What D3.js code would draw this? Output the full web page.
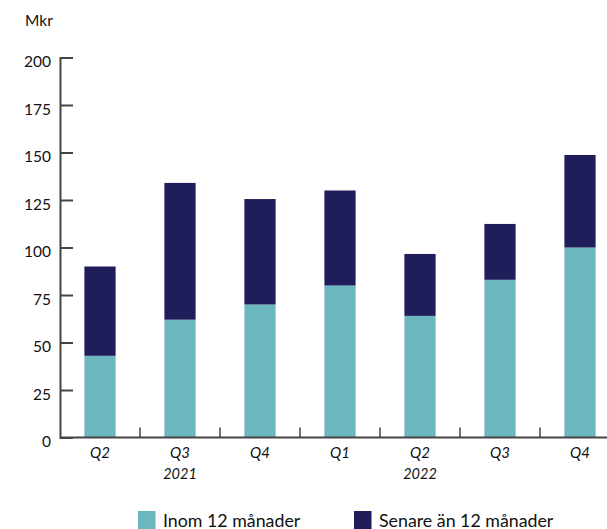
<!DOCTYPE html>
<html>
<head>
<meta charset="utf-8">
<script src="https://cdn.jsdelivr.net/npm/d3@7"></script>
<style>
  body { margin: 0; background: #fff; }
  svg { display: block; font-family: Lato, "Open Sans", sans-serif; }
</style>
</head>
<body>
<svg id="chart" width="607" height="529"></svg>
<script>
// Quarterly amounts (Mkr), split by maturity
const quarters = ["Q2", "Q3", "Q4", "Q1", "Q2", "Q3", "Q4"];
const years = ["2021", "2021", "2021", "2022", "2022", "2022", "2022"];
const inom12 = [43, 62, 70, 80, 64, 83, 100];
const senare12 = [47, 72, 55.5, 50, 32.6, 29.4, 48.7];
const yTicks = [0, 25, 50, 75, 100, 125, 150, 175, 200];
const seriesNames = ["Inom 12 månader", "Senare än 12 månader"];
const colors = ["#6bb7c0", "#1f1e5a"];

const data = quarters.map((q, i) => ({ key: i, q, year: years[i], inom: inom12[i], senare: senare12[i] }));

const svg = d3.select("#chart");
const plotLeft = 60, plotRight = 620, plotTop = 57.5, plotBottom = 437.5;

const x = d3.scaleBand().domain(data.map(d => d.key)).range([plotLeft, plotRight])
  .paddingInner(0.61).paddingOuter(0.305);
const y = d3.scaleLinear().domain([0, 200]).range([plotBottom, plotTop]);

const layers = d3.stack().keys(["inom", "senare"])(data);

svg.append("g").selectAll("g").data(layers).join("g")
  .attr("fill", (d, i) => colors[i])
  .selectAll("rect").data(d => d).join("rect")
  .attr("x", d => x(d.data.key))
  .attr("width", x.bandwidth())
  .attr("y", d => y(d[1]))
  .attr("height", d => y(d[0]) - y(d[1]));

const axisColor = "#444";

// Y axis with inward ticks
const yAxis = svg.append("g").attr("transform", `translate(${plotLeft},0)`)
  .call(d3.axisLeft(y).tickValues(yTicks).tickSize(-13).tickPadding(9));
yAxis.select(".domain").attr("stroke", axisColor).attr("stroke-width", 2);
yAxis.selectAll(".tick line").attr("stroke", axisColor).attr("stroke-width", 2);
yAxis.selectAll(".tick text")
  .attr("font-size", 15.5).attr("fill", "#111")
  .attr("dy", "0.6em")
  .attr("font-family", "Lato, 'Open Sans', sans-serif");

// X axis baseline with separators between quarters
svg.append("line")
  .attr("x1", plotLeft).attr("x2", 607)
  .attr("y1", plotBottom).attr("y2", plotBottom)
  .attr("stroke", axisColor).attr("stroke-width", 2);

const gap = (x.step() - x.bandwidth()) / 2;
svg.append("g").selectAll("line").data(data.slice(1)).join("line")
  .attr("x1", d => x(d.key) - gap)
  .attr("x2", d => x(d.key) - gap)
  .attr("y1", plotBottom).attr("y2", plotBottom - 10)
  .attr("stroke", axisColor).attr("stroke-width", 1.5);

// Quarter labels
svg.append("g").selectAll("text").data(data).join("text")
  .attr("x", d => x(d.key) + x.bandwidth() / 2)
  .attr("y", 458)
  .attr("text-anchor", "middle")
  .attr("font-size", 15)
  .attr("font-style", "italic")
  .attr("fill", "#111")
  .text(d => d.q);

// Year labels under the middle quarter of each year
const yearGroups = d3.groups(data, d => d.year);
svg.append("g").selectAll("text").data(yearGroups).join("text")
  .attr("x", ([, arr]) => {
    const mid = arr[Math.ceil(arr.length / 2) - 1];
    return x(mid.key) + x.bandwidth() / 2;
  })
  .attr("y", 479)
  .attr("text-anchor", "middle")
  .attr("font-size", 14.5)
  .attr("font-style", "italic")
  .attr("fill", "#111")
  .text(([yr]) => yr);

// Unit label
svg.append("text").attr("x", 25).attr("y", 26)
  .attr("font-size", 15.5).attr("fill", "#111").text("Mkr");

// Legend
const legendX = [138, 354];
const legend = svg.append("g").selectAll("g").data(seriesNames).join("g")
  .attr("transform", (d, i) => `translate(${legendX[i]},511)`);
legend.append("rect").attr("width", 17.5).attr("height", 18).attr("fill", (d, i) => colors[i]);
legend.append("text").attr("x", 25).attr("y", 15.5)
  .attr("font-size", 17.8).attr("fill", "#111").text(d => d);
</script>
</body>
</html>
